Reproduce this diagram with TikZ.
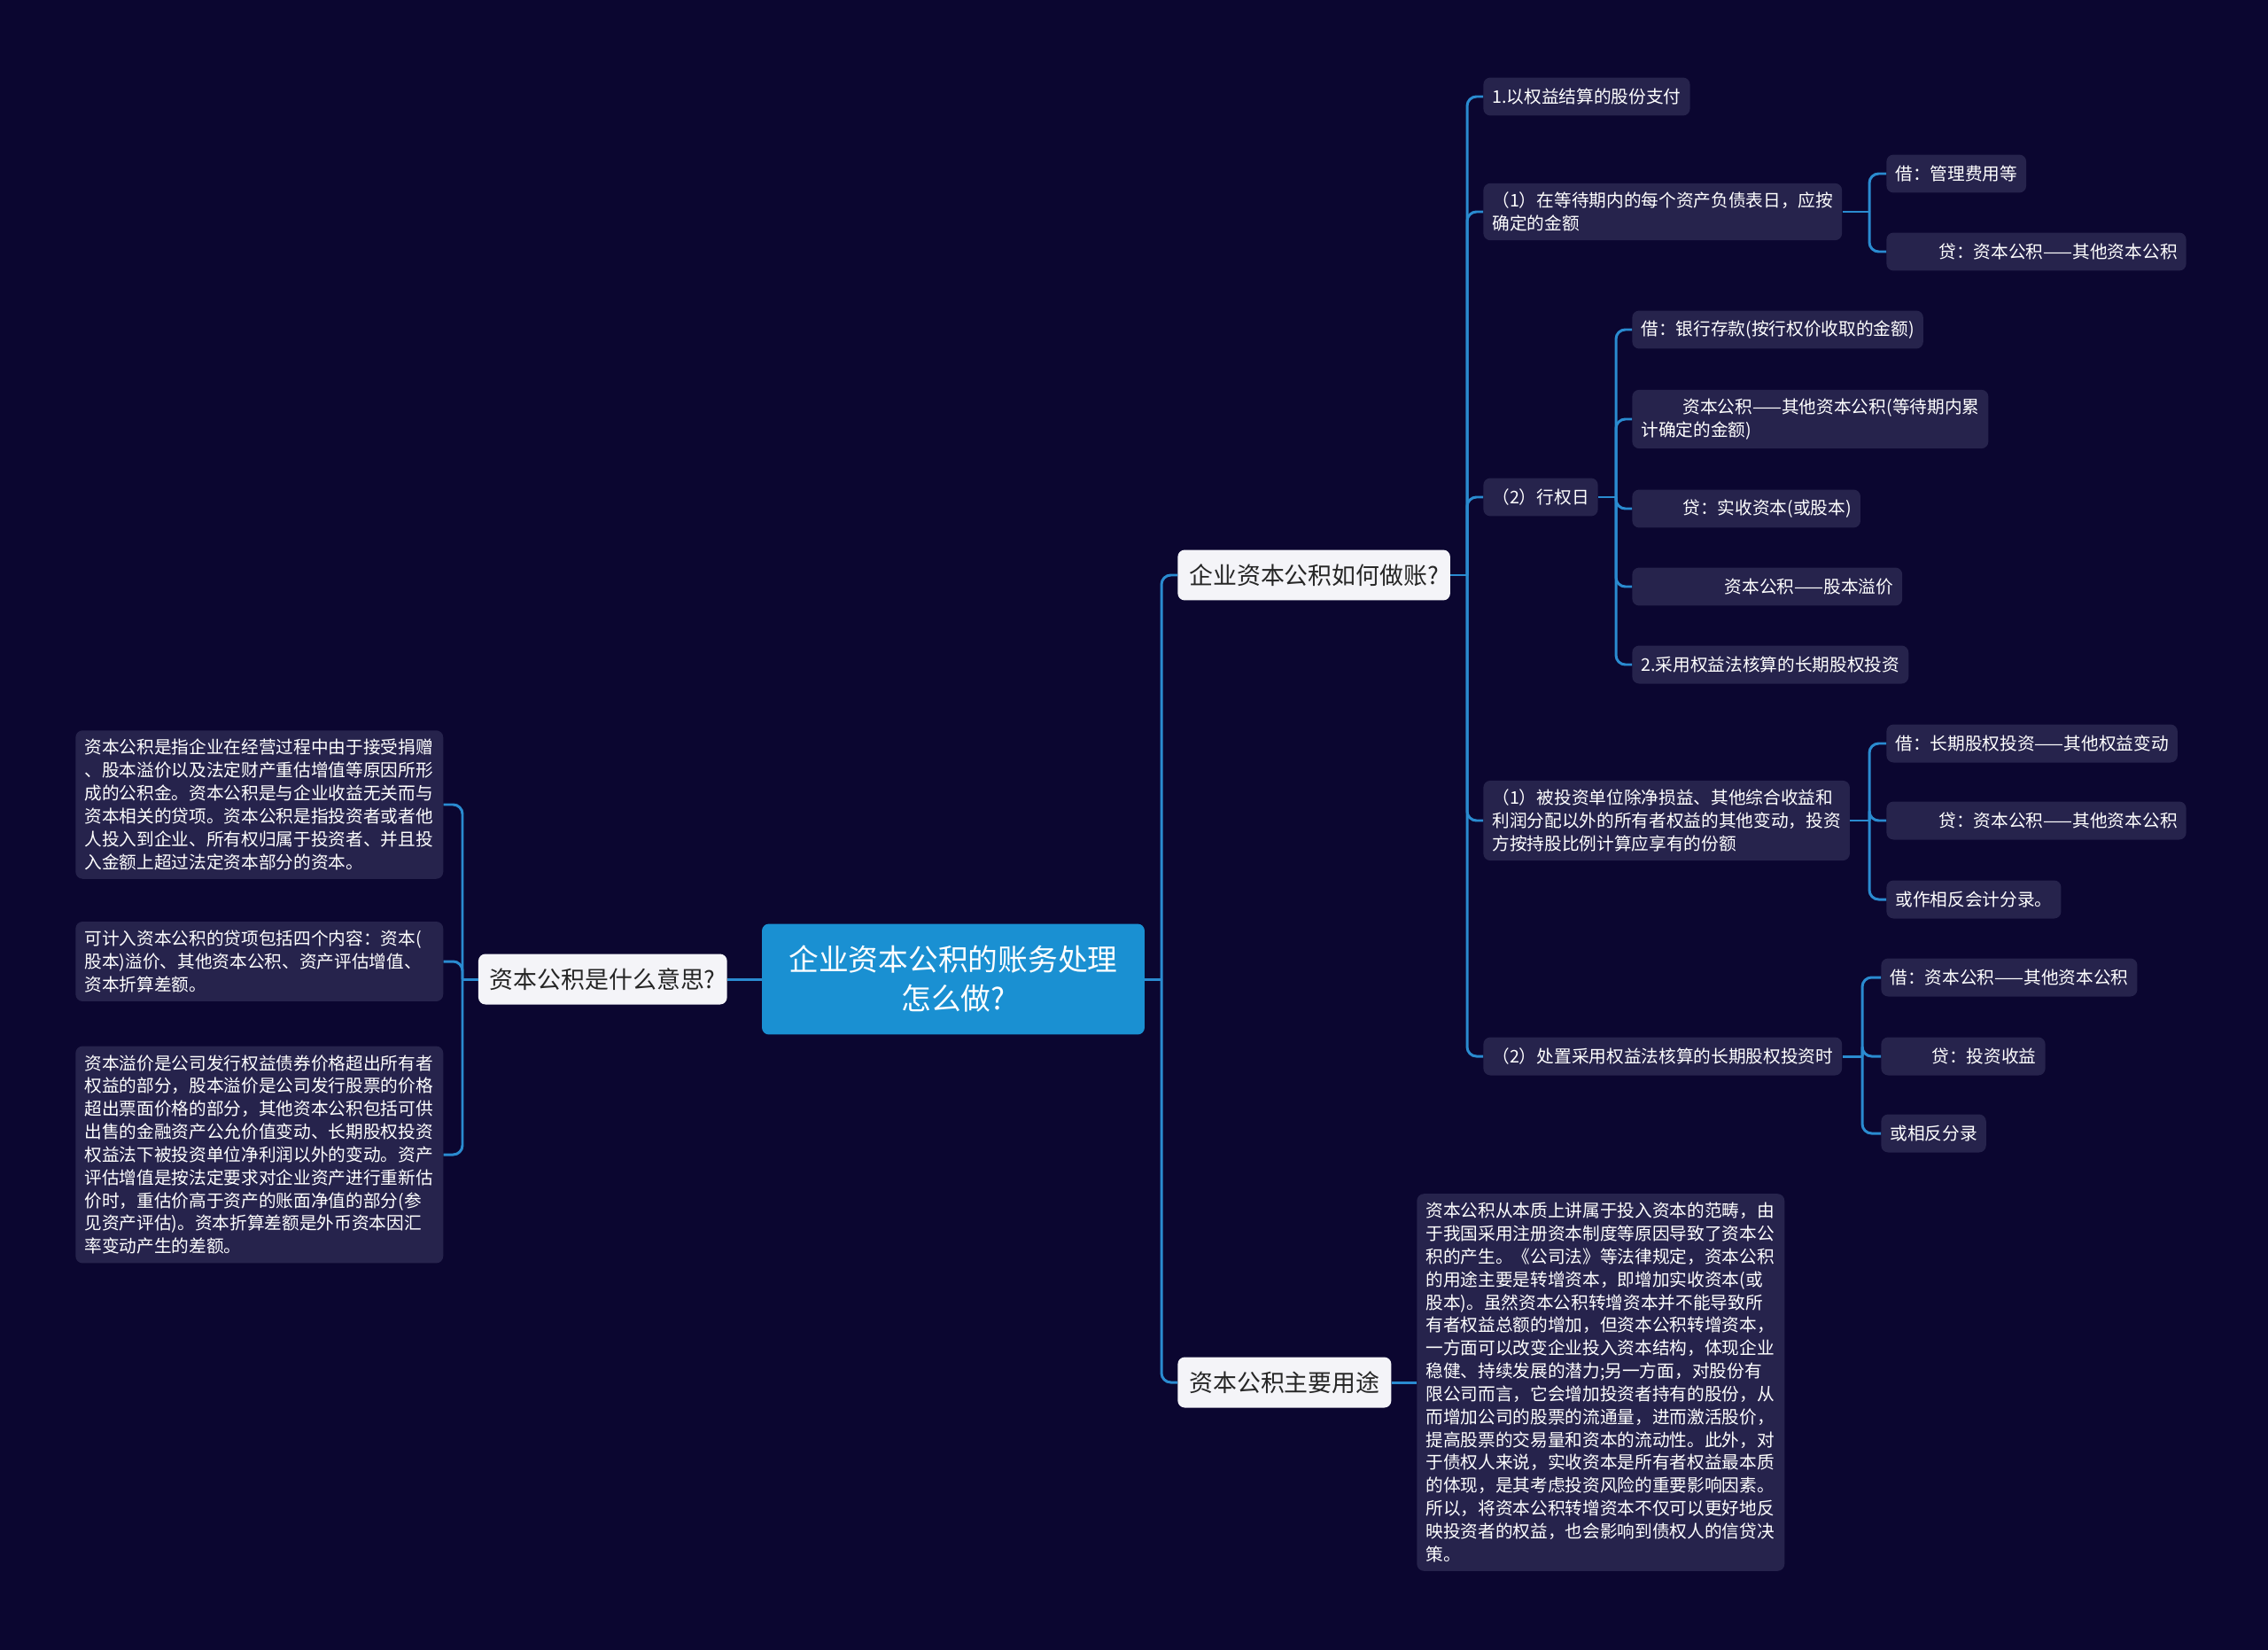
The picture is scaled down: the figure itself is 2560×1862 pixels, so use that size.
\documentclass[tikz,border=0pt]{standalone}
\usepackage{fontspec}
\usepackage{xcolor}
\usepackage{tikz}
\newfontfamily\cjk{Noto Sans CJK SC}
\definecolor{bgcolor}{HTML}{0B0630}
\definecolor{leafcolor}{HTML}{26234C}
\definecolor{rootcolor}{HTML}{1A90D2}
\definecolor{linecolor}{HTML}{2A8BD0}
\definecolor{topiccolor}{HTML}{F4F4F8}

\begin{document}
\begin{tikzpicture}[
    x=0.02cm, y=-0.02cm,
    leaf/.style={rectangle, rounded corners=4.5pt, fill=leafcolor,
                 text=white, align=left, anchor=west,
                 font=\cjk\fontsize{11.2}{14.7}\selectfont,
                 inner xsep=0.2cm, inner ysep=0.2cm,
                 minimum height=0.86cm},
    note/.style={leaf, text width=7.9cm},
    topic/.style={rectangle, rounded corners=4.5pt, fill=topiccolor,
                  text=black!85, anchor=west,
                  font=\cjk\fontsize{15.3}{18}\selectfont,
                  inner xsep=0.26cm, minimum height=1.14cm},
    link/.style={draw=linecolor, line width=1.7pt, rounded corners=6pt}
]
\fill[bgcolor] (0,0) rectangle (2560,1862);

\node (root) [rectangle, rounded corners=4.5pt, fill=rootcolor, text=white,
    align=center, font=\cjk\fontsize{19.2}{25}\selectfont,
    minimum width=8.64cm, minimum height=2.5cm] at (1076,1105)
    {企业资本公积的账务处理\\怎么做?};

\node (lm) [topic, anchor=east] at (821,1105) {资本公积是什么意思?};
\node (m1) [topic] at (1329,649) {企业资本公积如何做账?};
\node (m2) [topic] at (1329,1560) {资本公积主要用途};

\node (l1) [note] at (85,908) {资本公积是指企业在经营过程中由于接受捐赠\\、股本溢价以及法定财产重估增值等原因所形\\成的公积金。资本公积是与企业收益无关而与\\资本相关的贷项。资本公积是指投资者或者他\\人投入到企业、所有权归属于投资者、并且投\\入金额上超过法定资本部分的资本。};
\node (l2) [note] at (85,1085) {可计入资本公积的贷项包括四个内容：资本(\\股本)溢价、其他资本公积、资产评估增值、\\资本折算差额。};
\node (l3) [note] at (85,1303) {资本溢价是公司发行权益债券价格超出所有者\\权益的部分，股本溢价是公司发行股票的价格\\超出票面价格的部分，其他资本公积包括可供\\出售的金融资产公允价值变动、长期股权投资\\权益法下被投资单位净利润以外的变动。资产\\评估增值是按法定要求对企业资产进行重新估\\价时，重估价高于资产的账面净值的部分(参\\见资产评估)。资本折算差额是外币资本因汇\\率变动产生的差额。};

\node (a1) [leaf] at (1674,109) {1.以权益结算的股份支付};
\node (a2) [leaf] at (1674,239) {（1）在等待期内的每个资产负债表日，应按\\确定的金额};
\node (a3) [leaf] at (1674,561) {（2）行权日};
\node (a4) [leaf] at (1674,926) {（1）被投资单位除净损益、其他综合收益和\\利润分配以外的所有者权益的其他变动，投资\\方按持股比例计算应享有的份额};
\node (a5) [leaf] at (1674,1192) {（2）处置采用权益法核算的长期股权投资时};

\node (b1) [leaf] at (2129,196) {借：管理费用等};
\node (b2) [leaf] at (2129,284) {\hspace*{2.5em}贷：资本公积——其他资本公积};

\node (c1) [leaf] at (1842,372) {借：银行存款(按行权价收取的金额)};
\node (c2) [leaf] at (1842,473) {\hspace*{2.4em}资本公积——其他资本公积(等待期内累\\计确定的金额)};
\node (c3) [leaf] at (1842,574) {\hspace*{2.4em}贷：实收资本(或股本)};
\node (c4) [leaf] at (1842,662) {\hspace*{4.8em}资本公积——股本溢价};
\node (c5) [leaf] at (1842,750) {2.采用权益法核算的长期股权投资};

\node (d1) [leaf] at (2129,839) {借：长期股权投资——其他权益变动};
\node (d2) [leaf] at (2129,926) {\hspace*{2.5em}贷：资本公积——其他资本公积};
\node (d3) [leaf] at (2129,1015) {或作相反会计分录。};

\node (e1) [leaf] at (2123,1103) {借：资本公积——其他资本公积};
\node (e2) [leaf] at (2123,1192) {\hspace*{2.4em}贷：投资收益};
\node (e3) [leaf] at (2123,1279) {或相反分录};

\node (f1) [note] at (1599,1560) {资本公积从本质上讲属于投入资本的范畴，由\\于我国采用注册资本制度等原因导致了资本公\\积的产生。《公司法》等法律规定，资本公积\\的用途主要是转增资本，即增加实收资本(或\\股本)。虽然资本公积转增资本并不能导致所\\有者权益总额的增加，但资本公积转增资本，\\一方面可以改变企业投入资本结构，体现企业\\稳健、持续发展的潜力;另一方面，对股份有\\限公司而言，它会增加投资者持有的股份，从\\而增加公司的股票的流通量，进而激活股价，\\提高股票的交易量和资本的流动性。此外，对\\于债权人来说，实收资本是所有者权益最本质\\的体现，是其考虑投资风险的重要影响因素。\\所以，将资本公积转增资本不仅可以更好地反\\映投资者的权益，也会影响到债权人的信贷决\\策。};

\coordinate (j0) at (1311,1105);
\coordinate (jl) at (522,1105);
\coordinate (ja) at (1656,649);
\coordinate (jb) at (2110,239);
\coordinate (jc) at (1824,561);
\coordinate (jd) at (2110,926);
\coordinate (je) at (2102,1192);

\draw[link] (root.east) -- (j0);
\draw[link] (j0) |- (m1.west);
\draw[link] (j0) |- (m2.west);
\draw[link] (root.west) -- (lm.east);
\draw[link] (lm.west) -- (jl);
\foreach \n in {l1,l2,l3} \draw[link] (jl) |- (\n.east);
\draw[link] (m1.east) -- (ja);
\foreach \n in {a1,a2,a3,a4,a5} \draw[link] (ja) |- (\n.west);
\draw[link] (a2.east) -- (jb);
\foreach \n in {b1,b2} \draw[link] (jb) |- (\n.west);
\draw[link] (a3.east) -- (jc);
\foreach \n in {c1,c2,c3,c4,c5} \draw[link] (jc) |- (\n.west);
\draw[link] (a4.east) -- (jd);
\foreach \n in {d1,d2,d3} \draw[link] (jd) |- (\n.west);
\draw[link] (a5.east) -- (je);
\foreach \n in {e1,e2,e3} \draw[link] (je) |- (\n.west);
\draw[link] (m2.east) -- (f1.west);
\end{tikzpicture}
\end{document}
